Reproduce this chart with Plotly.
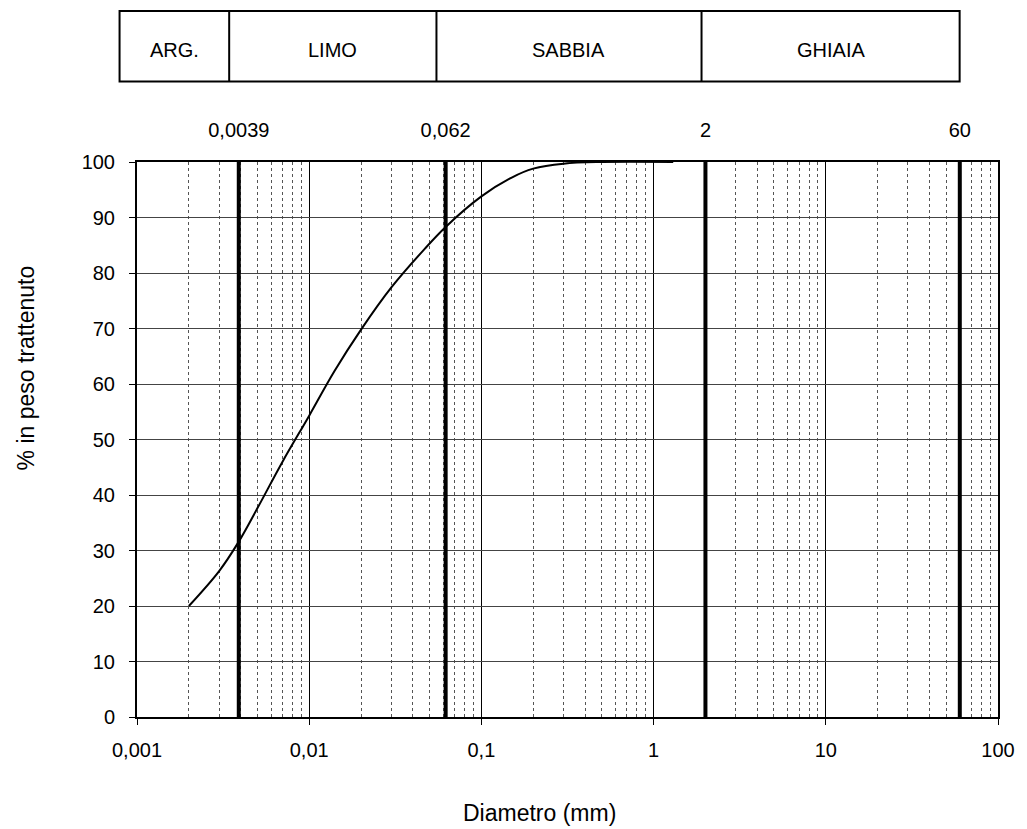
import plotly.graph_objects as go

# ---- data ----
diam_mm = [0.002, 0.003, 0.0039, 0.005, 0.007, 0.01, 0.014, 0.02,
           0.03, 0.047, 0.062, 0.1, 0.15, 0.2, 0.3, 0.5, 1.3]
pct_retained = [20.0, 26.3, 31.6, 37.6, 46.0, 54.3, 62.3, 69.8,
                77.4, 84.4, 88.3, 93.8, 97.2, 98.8, 99.7, 100.0, 100.0]

class_limits = [0.0039, 0.062, 2, 60]
class_limit_labels = ["0,0039", "0,062", "2", "60"]
class_names = ["ARG.", "LIMO", "SABBIA", "GHIAIA"]

x_tickvals = [0.001, 0.01, 0.1, 1, 10, 100]
x_ticktext = ["0,001", "0,01", "0,1", "1", "10", "100"]
y_tickvals = list(range(0, 101, 10))

# minor grid values 2..9 in each decade
minor_vals = [m * 10 ** e for e in range(-3, 2) for m in range(2, 10)]

FONT = "Liberation Sans, Arial, sans-serif"

# ---- layout geometry (pixels) ----
W, H = 1027, 829
L, R, T, B = 137, 26, 162, 112
pw, ph = W - L - R, H - T - B


def px(xpix):
    return (xpix - L) / pw


def py(ypix):
    return (H - B - ypix) / ph


fig = go.Figure()

fig.add_trace(go.Scatter(
    x=diam_mm, y=pct_retained, mode="lines",
    line=dict(color="black", width=2, shape="spline", smoothing=1.0),
    showlegend=False, hoverinfo="skip"))

for v in class_limits:
    fig.add_trace(go.Scatter(
        x=[v, v], y=[0, 100], mode="lines", xaxis="x2",
        line=dict(color="black", width=4),
        showlegend=False, hoverinfo="skip"))

fig.update_layout(
    width=W, height=H,
    margin=dict(l=L, r=R, t=T, b=B, pad=0),
    paper_bgcolor="white", plot_bgcolor="white",
    font=dict(family=FONT, size=20, color="black"),
    showlegend=False,
    xaxis=dict(
        type="log", range=[-3, 2],
        tickmode="array", tickvals=x_tickvals, ticktext=x_ticktext,
        showgrid=True, gridcolor="black", gridwidth=1,
        ticks="outside", ticklen=6, tickcolor="black", tickwidth=1,
        ticklabelstandoff=8,
        showline=True, linecolor="black", linewidth=2, mirror=True,
        zeroline=False,
        minor=dict(tickvals=minor_vals, showgrid=True, gridcolor="#555555",
                   gridwidth=1, griddash="dot", ticks=""),
        tickfont=dict(size=20),
    ),
    xaxis2=dict(
        type="log", range=[-3, 2], overlaying="x", side="top",
        tickmode="array", tickvals=class_limits, ticktext=class_limit_labels,
        showgrid=False, showline=False, zeroline=False,
        ticks="outside", ticklen=16, tickcolor="rgba(0,0,0,0)",
        tickfont=dict(size=20),
    ),
    yaxis=dict(
        range=[0, 100], tickmode="array", tickvals=y_tickvals,
        showgrid=True, gridcolor="#444444", gridwidth=1,
        ticks="outside", ticklen=6, tickcolor="black",
        ticklabelstandoff=10,
        showline=True, linecolor="black", linewidth=2, mirror=True,
        zeroline=False,
        tickfont=dict(size=20),
    ),
)

# axis titles
fig.add_annotation(text="Diametro (mm)", xref="paper", yref="paper",
                   x=px(541), y=py(813), showarrow=False,
                   font=dict(size=23, family=FONT), xanchor="center", yanchor="middle")
fig.add_annotation(text="% in peso trattenuto", xref="paper", yref="paper",
                   x=px(26), y=py(368), showarrow=False, textangle=-90,
                   font=dict(size=23, family=FONT), xanchor="center", yanchor="middle")

# classification table at the top
tbl_left, tbl_right, tbl_top, tbl_bot = 119.5, 962.5, 11, 81.5
dividers = [229.5, 437.5, 703.5]
fig.add_shape(type="rect", xref="paper", yref="paper",
              x0=px(tbl_left), x1=px(tbl_right), y0=py(tbl_bot), y1=py(tbl_top),
              line=dict(color="black", width=2), fillcolor="rgba(0,0,0,0)")
for d in dividers:
    fig.add_shape(type="line", xref="paper", yref="paper",
                  x0=px(d), x1=px(d), y0=py(tbl_bot), y1=py(tbl_top),
                  line=dict(color="black", width=2))
edges = [tbl_left] + dividers + [tbl_right]
for i, name in enumerate(class_names):
    cx = (edges[i] + edges[i + 1]) / 2
    fig.add_annotation(text=name, xref="paper", yref="paper",
                       x=px(cx), y=py(50), showarrow=False,
                       font=dict(size=20, family=FONT),
                       xanchor="center", yanchor="middle")

fig.write_html("out.html",
               config={"displayModeBar": False},
               post_script="document.body.style.margin='0';document.body.style.overflow='hidden';")
